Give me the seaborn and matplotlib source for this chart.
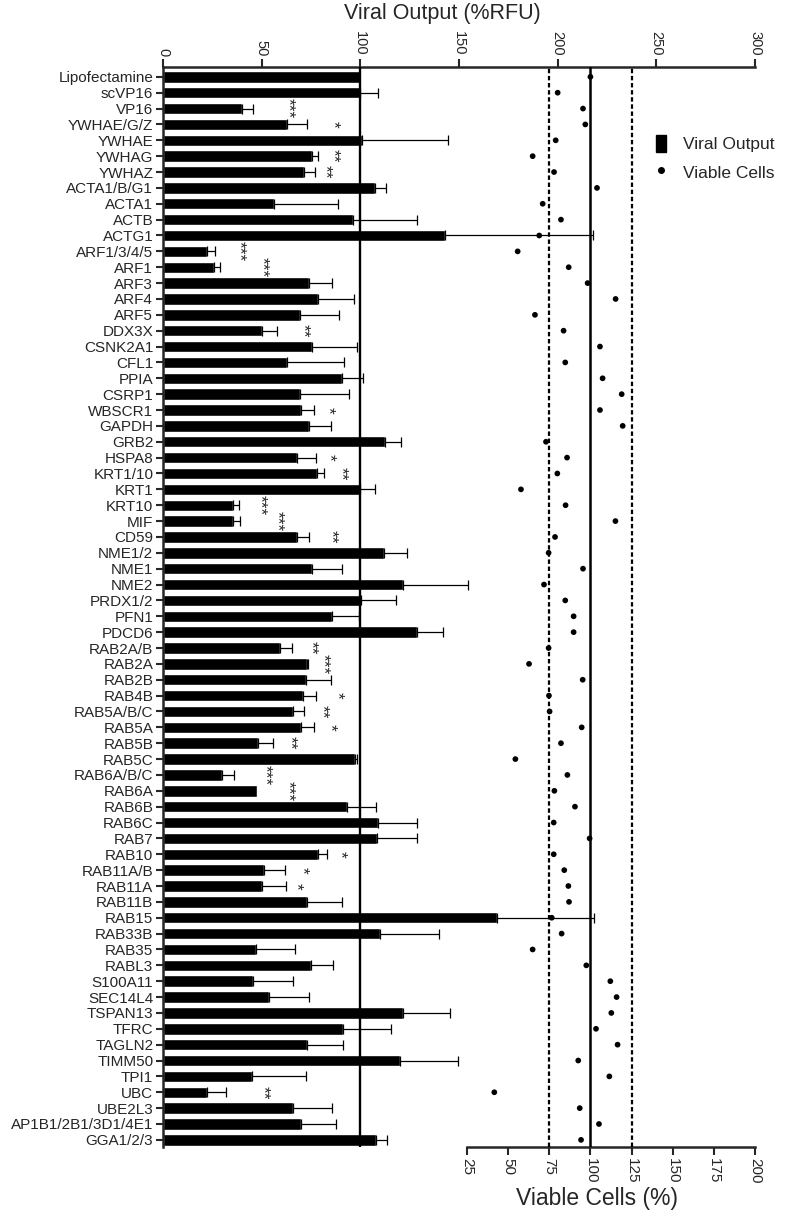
import numpy as np
import pandas as pd
import matplotlib
matplotlib.use("Agg")
import matplotlib.pyplot as plt
import seaborn as sns
from matplotlib.lines import Line2D
from matplotlib.patches import Patch

# ------------------------------------------------------------
# Datos
# ------------------------------------------------------------
genes = [
    "Lipofectamine", "scVP16", "VP16", "YWHAE/G/Z", "YWHAE", "YWHAG", "YWHAZ",
    "ACTA1/B/G1", "ACTA1", "ACTB", "ACTG1", "ARF1/3/4/5", "ARF1", "ARF3", "ARF4",
    "ARF5", "DDX3X", "CSNK2A1", "CFL1", "PPIA", "CSRP1", "WBSCR1", "GAPDH", "GRB2",
    "HSPA8", "KRT1/10", "KRT1", "KRT10", "MIF", "CD59", "NME1/2", "NME1", "NME2",
    "PRDX1/2", "PFN1", "PDCD6", "RAB2A/B", "RAB2A", "RAB2B", "RAB4B", "RAB5A/B/C",
    "RAB5A", "RAB5B", "RAB5C", "RAB6A/B/C", "RAB6A", "RAB6B", "RAB6C", "RAB7",
    "RAB10", "RAB11A/B", "RAB11A", "RAB11B", "RAB15", "RAB33B", "RAB35", "RABL3",
    "S100A11", "SEC14L4", "TSPAN13", "TFRC", "TAGLN2", "TIMM50", "TPI1", "UBC",
    "UBE2L3", "AP1B1/2B1/3D1/4E1", "GGA1/2/3",
]

# Viral Output (%RFU)
viral = [
    100, 100, 40.2, 63, 101, 75.4, 71.6,
    107.5, 56.3, 96.1, 143, 22.1, 26, 74, 78.4,
    69.4, 50.3, 75.7, 63, 90.6, 69.4, 69.8, 74, 112.5,
    67.8, 78.2, 99.8, 35.6, 35.3, 67.8, 112, 75.7, 121.8,
    100.2, 85.5, 128.6, 59.3, 72.8, 72.3, 71.1, 66,
    69.8, 48.3, 97.3, 29.7, 47.8, 93.1, 108.8, 108.5,
    78.4, 51.2, 50.3, 72.8, 169.1, 110, 47, 75,
    45.8, 53.9, 121.6, 91, 72.8, 120, 45.3, 22.5,
    66, 70, 107.8,
]

# error (solo hacia la derecha)
viral_sem = [
    0, 9, 5.3, 10.1, 43.6, 3.3, 5.4,
    5.4, 32.6, 32.5, 74.8, 4.3, 2.9, 11.8, 18.6,
    19.8, 7.6, 22.8, 28.7, 10.6, 24.9, 6.7, 11.1, 8.3,
    9.7, 3.4, 7.7, 2.9, 3.7, 6.4, 11.5, 14.9, 32.9,
    17.7, 14, 13.4, 5.9, 0.9, 12.8, 6.4, 5.6,
    6.7, 7.3, 0.9, 6.3, 0, 14.7, 19.8, 20.1,
    4.6, 10.6, 12, 17.8, 49.5, 30, 19.9, 11,
    20.2, 20.3, 23.9, 24.6, 18.2, 29.7, 27.2, 9.4,
    19.8, 17.5, 5.9,
]

# Viable Cells (%)
viable = [
    100, 80.1, 95.5, 96.9, 78.9, 64.9, 77.9,
    104, 71, 82.1, 68.9, 55.8, 86.8, 98.3, 115.3,
    66.3, 83.7, 105.8, 84.7, 107.4, 119, 105.8, 119.6, 73,
    85.8, 79.9, 57.8, 84.9, 115.2, 78.5, 74.6, 95.5, 71.8,
    84.7, 89.8, 89.8, 74.6, 62.7, 95.3, 74.8, 75.2,
    94.7, 82.1, 54.4, 86, 78.1, 90.6, 77.7, 99.5,
    77.7, 84.1, 86.6, 87, 76.5, 82.5, 64.9, 97.5,
    112.1, 115.9, 112.7, 103.4, 116.5, 92.6, 111.5, 41.6,
    93.5, 105.2, 94.3,
]

# significancia
star_genes = ["VP16", "YWHAE/G/Z", "YWHAG", "YWHAZ", "ARF1/3/4/5", "ARF1", "DDX3X",
              "WBSCR1", "HSPA8", "KRT1/10", "KRT10", "MIF", "CD59", "RAB2A/B",
              "RAB2A", "RAB4B", "RAB5A/B/C", "RAB5A", "RAB5B", "RAB6A/B/C", "RAB6A",
              "RAB10", "RAB11A/B", "RAB11A", "UBC"]
star_labels = ["***", "*", "**", "**", "***", "***", "**",
               "*", "*", "**", "***", "***", "**", "**",
               "***", "*", "**", "*", "**", "***", "***",
               "*", "*", "*", "**"]
# posicion de los asteriscos (unidades %RFU)
star_x = [63.4, 86, 86, 82, 38.6, 50, 71.1,
          83.8, 84.3, 90, 49.2, 57.6, 85.1, 75,
          80.9, 88, 80.4, 84.6, 64.4, 51.7, 63.5,
          89.7, 70.3, 67.4, 50.5]

viral_ticks = [0, 50, 100, 150, 200, 250, 300]
viable_ticks = [25, 50, 75, 100, 125, 150, 175, 200]

df = pd.DataFrame({"gene": genes, "viral": viral, "sem": viral_sem, "viable": viable})
df["row"] = np.arange(len(df))

# ------------------------------------------------------------
# Figura
# ------------------------------------------------------------
sns.set_style("ticks")
plt.rcParams['font.family'] = ['Liberation Sans', 'DejaVu Sans']

W, H = 789, 1214
fig = plt.figure(figsize=(W / 100, H / 100), dpi=100)
ax = fig.add_axes([163 / W, 1 - 1147 / H, 592 / W, 1080 / H])

sns.barplot(data=df, x="viral", y="gene", color="black", saturation=1,
            width=0.72, errorbar=None, orient="h", ax=ax)

eb = df[df["sem"] > 0]
ax.errorbar(eb["viral"], eb["row"], xerr=[np.zeros(len(eb)), eb["sem"]],
            fmt="none", ecolor="black", elinewidth=0.9, capsize=3.6, capthick=0.9,
            zorder=2)

ax.axvline(100, color="black", lw=1.7, zorder=3)

for g, lab, xs in zip(star_genes, star_labels, star_x):
    r = genes.index(g)
    ax.text(xs, r, lab, rotation=-90, ha="center", va="center", fontsize=12.5)

# eje secundario: celulas viables
ax2 = ax.twiny()
sns.scatterplot(data=df, x="viable", y="row", color="black", s=17,
                edgecolor="none", legend=False, ax=ax2, zorder=4)
ax2.axvline(100, color="black", lw=1.8, zorder=3)
for v in (75, 125):
    ax2.axvline(v, color="black", lw=1.6, ls=(0, (2, 1.2)), zorder=3)
ax2.set_xlim(-159.7, 200)
ax2.set_xticks(viable_ticks)
ax2.xaxis.set_ticks_position("bottom")
ax2.xaxis.set_label_position("bottom")
ax2.tick_params(axis="x", direction="out", length=6, width=1.5, labelsize=11,
                labelrotation=-90, pad=2)
ax2.set_xlabel("")
ax2.set_ylabel("")
for s in ("top", "left", "right"):
    ax2.spines[s].set_visible(False)
ax2.spines["bottom"].set_bounds(25, 200)
ax2.spines["bottom"].set_linewidth(1.8)

# eje principal
ax.set_xlim(0, 300)
ax.set_xticks(viral_ticks)
ax.xaxis.tick_top()
ax.xaxis.set_label_position("top")
ax.tick_params(axis="x", direction="out", length=6, width=1.5, labelsize=10.5,
               labelrotation=-90, pad=2)
ax.tick_params(axis="y", direction="out", length=5, width=1.5, labelsize=11, pad=2)
ax.set_xlabel("")
ax.set_ylabel("")
ax.spines["right"].set_visible(False)
ax.spines["bottom"].set_visible(False)
ax.spines["top"].set_linewidth(1.8)
ax.spines["left"].set_linewidth(1.8)
ax.set_ylim(67.45, -0.62)

fig.text(442 / W, 1 - 14 / H, "Viral Output (%RFU)", ha="center", va="center",
         fontsize=15.5)
fig.text(597 / W, 1 - 1198 / H, "Viable Cells (%)", ha="center", va="center",
         fontsize=16.5)

handles = [Patch(facecolor="black", edgecolor="black"),
           Line2D([], [], marker="o", color="black", ls="none", ms=4)]
fig.legend(handles, ["Viral Output", "Viable Cells"], loc="upper left",
           bbox_to_anchor=(640 / W, 1 - 119 / H), frameon=False, fontsize=12.5,
           handlelength=0.6, handleheight=1.2, handletextpad=1.0, labelspacing=0.6)

fig.savefig("out.png", dpi=100)
